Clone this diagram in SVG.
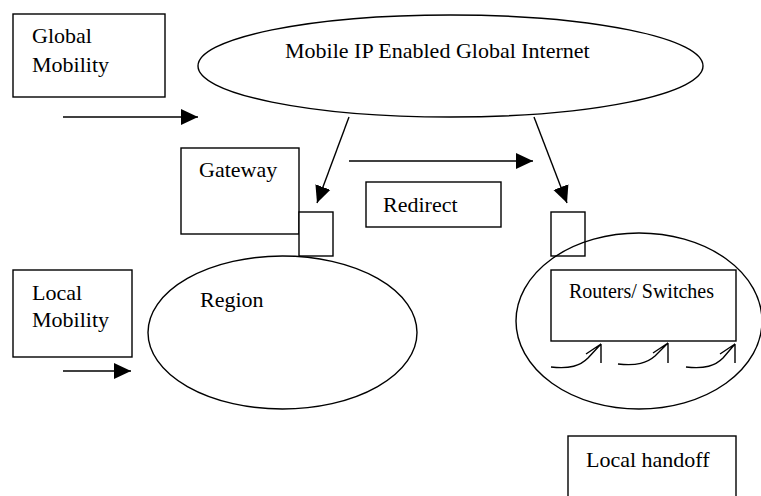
<svg xmlns="http://www.w3.org/2000/svg" width="761" height="496" viewBox="0 0 761 496">
  <style>
    .shape { fill: #fff; stroke: #000; stroke-width: 1.4; }
    .outline { fill: none; stroke: #000; stroke-width: 1.4; }
    .line { fill: none; stroke: #000; stroke-width: 1.4; }
    .lbl { font-family: "Liberation Serif", Tinos, "Times New Roman", Times, "DejaVu Serif", serif; font-size: 22px; fill: #000; }
    .small { font-size: 20px; }
  </style>
  <defs>
    <marker id="head" markerUnits="userSpaceOnUse" markerWidth="18" markerHeight="18" viewBox="0 0 18 18" refX="17" refY="9" orient="auto">
      <path d="M0,1 L17,9 L0,17 Z" fill="#000"/>
    </marker>
  </defs>
  <rect width="761" height="496" fill="#fff"/>

  <g id="global-mobility">
    <rect class="shape" x="13" y="14" width="152" height="83"/>
    <text class="lbl" font-family="Liberation Serif, serif" x="32" y="43">Global</text>
    <text class="lbl" font-family="Liberation Serif, serif" x="32" y="72">Mobility</text>
  </g>

  <g id="internet">
    <ellipse class="shape" cx="450.5" cy="66" rx="252.5" ry="51"/>
    <text class="lbl" x="285" y="58">Mobile IP Enabled Global Internet</text>
  </g>

  <g id="gateway">
    <rect class="shape" x="181" y="148" width="118" height="86"/>
    <text class="lbl" x="199" y="177">Gateway</text>
  </g>

  <g id="redirect">
    <rect class="shape" x="366" y="182" width="135" height="45"/>
    <text class="lbl" x="383" y="212">Redirect</text>
  </g>

  <g id="local-mobility">
    <rect class="shape" x="13" y="270" width="119" height="87"/>
    <text class="lbl" x="32" y="300">Local</text>
    <text class="lbl" x="32" y="327">Mobility</text>
  </g>

  <g id="gateway-port">
    <rect class="shape" x="299" y="212" width="34" height="44"/>
  </g>

  <g id="region">
    <ellipse class="outline" cx="282.5" cy="332.5" rx="134.5" ry="76.5"/>
    <text class="lbl" x="200" y="307">Region</text>
  </g>

  <g id="remote-port">
    <rect class="shape" x="551" y="212" width="34" height="44"/>
  </g>

  <g id="remote-region">
    <ellipse class="outline" cx="639" cy="321" rx="123" ry="88"/>
  </g>

  <g id="routers">
    <rect class="shape" x="551" y="270" width="185" height="71"/>
    <text class="lbl small" x="569" y="298">Routers/ Switches</text>
  </g>

  <g id="local-handoff">
    <rect class="shape" x="568" y="436" width="168" height="70"/>
    <text class="lbl" x="586" y="467">Local handoff</text>
  </g>

  <g id="connectors">
    <line class="line" x1="63" y1="117" x2="198" y2="117" marker-end="url(#head)"/>
    <line class="line" x1="349" y1="117" x2="317" y2="203" marker-end="url(#head)"/>
    <line class="line" x1="349" y1="161" x2="533" y2="161" marker-end="url(#head)"/>
    <line class="line" x1="534" y1="117" x2="567" y2="203" marker-end="url(#head)"/>
    <line class="line" x1="63" y1="371" x2="131" y2="371" marker-end="url(#head)"/>
    <!-- handoff arrows under the routers -->
    <path class="line" d="M551,367 C570,369 580,366 588,358 L601,344 M601,344 L601,363 M601,344 L586,354"/>
    <path class="line" d="M618,364 C637,366 647,363 655,356 L668,343 M668,343 L668,363 M668,343 L653,353"/>
    <path class="line" d="M686,367 C705,369 715,366 723,358 L735,344 M735,344 L735,363 M735,344 L720,354"/>
  </g>
</svg>
